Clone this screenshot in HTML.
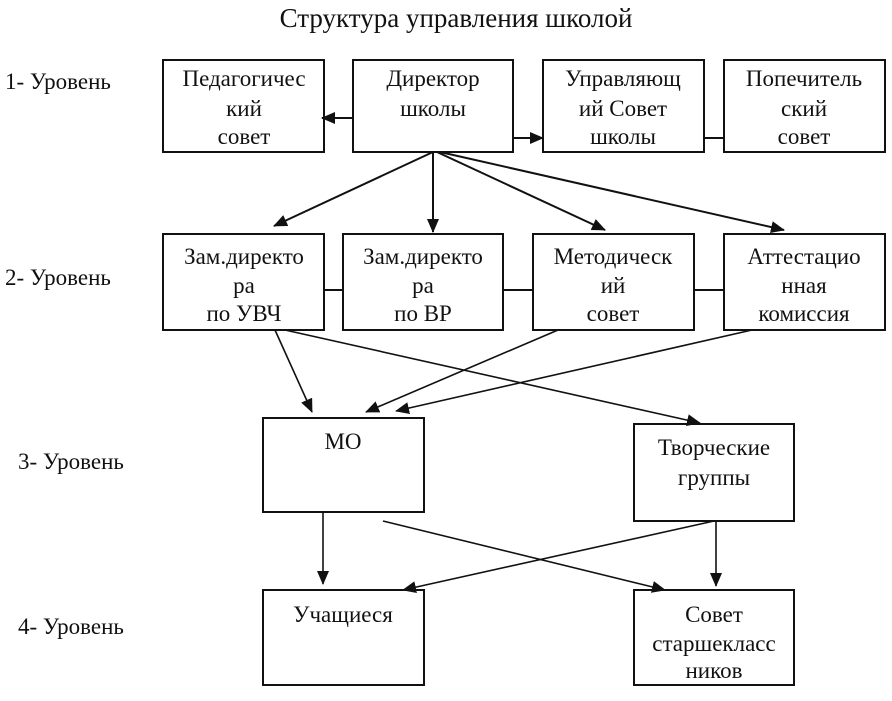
<!DOCTYPE html>
<html><head><meta charset="utf-8"><style>
body{margin:0;background:#fff;width:892px;height:696px;overflow:hidden}
svg text{font-family:"Liberation Serif",serif;fill:#111}
</style></head><body>
<svg width="892" height="696" viewBox="0 0 892 696" xmlns="http://www.w3.org/2000/svg">
<defs><marker id="a" markerWidth="14" markerHeight="12" refX="13" refY="6" orient="auto" markerUnits="userSpaceOnUse"><path d="M0,0 L14,6 L0,12 z" fill="#111"/></marker></defs>
<text x="456" y="27" font-size="27" text-anchor="middle">Структура управления школой</text>
<g font-size="23">
<text x="5" y="89">1- Уровень</text>
<text x="5" y="285">2- Уровень</text>
<text x="18" y="469">3- Уровень</text>
<text x="18" y="634">4- Уровень</text>
</g>
<g fill="none" stroke="#111" stroke-width="2">
<rect x="163" y="60" width="161" height="92"/>
<rect x="353" y="60" width="160" height="92"/>
<rect x="543" y="60" width="161" height="92"/>
<rect x="724" y="60" width="161" height="92"/>
<rect x="163" y="234" width="161" height="96"/>
<rect x="343" y="234" width="160" height="96"/>
<rect x="533" y="234" width="161" height="96"/>
<rect x="724" y="234" width="161" height="96"/>
<rect x="263" y="418" width="161" height="94"/>
<rect x="634" y="424" width="160" height="97"/>
<rect x="263" y="590" width="161" height="95"/>
<rect x="634" y="590" width="160" height="95"/>
<line x1="324" y1="290" x2="343" y2="290"/>
<line x1="503" y1="290" x2="533" y2="290"/>
<line x1="694" y1="290" x2="724" y2="290"/>
<line x1="704" y1="138" x2="724" y2="138"/>
</g>
<g stroke="#111" stroke-width="2" marker-end="url(#a)">
<line x1="353" y1="118" x2="322" y2="118"/>
<line x1="513" y1="138" x2="543" y2="138"/>
<line x1="433" y1="152" x2="274" y2="226"/>
<line x1="433" y1="152" x2="433" y2="232"/>
<line x1="437" y1="152" x2="605" y2="230"/>
<line x1="440" y1="152" x2="784" y2="230"/>
</g>
<g stroke="#111" stroke-width="1.6" marker-end="url(#a)">
<line x1="275" y1="330" x2="312" y2="412"/>
<line x1="285" y1="330" x2="700" y2="423"/>
<line x1="558" y1="330" x2="366" y2="412"/>
<line x1="752" y1="330" x2="396" y2="411"/>
<line x1="323" y1="512" x2="323" y2="584"/>
<line x1="383" y1="521" x2="665" y2="590"/>
<line x1="716" y1="521" x2="716" y2="586"/>
<line x1="714" y1="521" x2="403" y2="590"/>
</g>
<g font-size="23" text-anchor="middle">
<text x="244" y="86">Педагогичес</text><text x="244" y="116">кий</text><text x="244" y="144">совет</text>
<text x="433" y="86">Директор</text><text x="433" y="116">школы</text>
<text x="623" y="86">Управляющ</text><text x="623" y="116">ий Совет</text><text x="623" y="144">школы</text>
<text x="804" y="86">Попечитель</text><text x="804" y="116">ский</text><text x="804" y="144">совет</text>
<text x="244" y="264">Зам.директо</text><text x="244" y="293">ра</text><text x="244" y="321">по УВЧ</text>
<text x="423" y="264">Зам.директо</text><text x="423" y="293">ра</text><text x="423" y="321">по ВР</text>
<text x="613" y="264">Методическ</text><text x="613" y="293">ий</text><text x="613" y="321">совет</text>
<text x="804" y="264">Аттестацио</text><text x="804" y="293">нная</text><text x="804" y="321">комиссия</text>
<text x="343" y="449">МО</text>
<text x="714" y="455">Творческие</text><text x="714" y="485">группы</text>
<text x="343" y="622">Учащиеся</text>
<text x="714" y="622">Совет</text><text x="714" y="651">старшекласс</text><text x="714" y="678">ников</text>
</g>
</svg>
</body></html>
